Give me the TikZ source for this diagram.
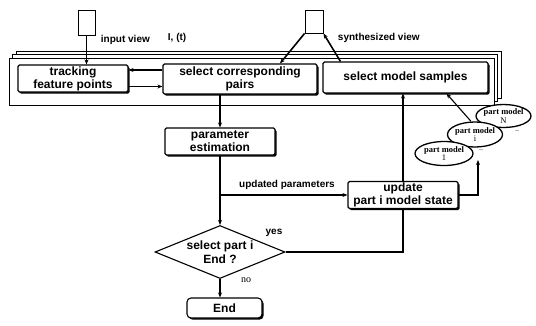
\documentclass[tikz,border=0pt]{standalone}
\usepackage{fontspec}
\setmainfont{Liberation Sans}
\newfontfamily\serifnum{Liberation Serif}
\usetikzlibrary{positioning,shapes.geometric,shadows,arrows.meta}

\tikzset{
  box/.style={draw, line width=1.1pt, rounded corners=1.5pt, fill=white, align=center, inner sep=1pt,
    font=\fontsize{12}{13}\selectfont\bfseries,
    drop shadow={shadow xshift=1.6pt, shadow yshift=-1.6pt, fill=black, opacity=1}},
  panel/.style={draw, line width=0.9pt, fill=white,
    double copy shadow={shadow xshift=3.5pt, shadow yshift=3.5pt}},
  view/.style={draw, line width=0.9pt, fill=white},
  decision/.style={draw, diamond, line width=1.1pt, fill=white, inner sep=0pt, aspect=2.45,
    minimum width=130pt, minimum height=53pt},
  part/.style={draw, ellipse, line width=1.3pt, fill=white, inner sep=-3pt, align=center,
    font=\fontsize{8.5}{8.5}\selectfont\serifnum\bfseries},
  lbl/.style={font=\fontsize{10}{11}\selectfont\bfseries, inner sep=0.75pt},
  arr/.style={line width=1.1pt, -{Stealth[length=5pt, width=4pt]}},
  link/.style={line width=1.1pt},
}

\begin{document}
\begin{tikzpicture}[x=1pt, y=-1pt]
\useasboundingbox (0,0) rectangle (536,325);
\node[panel, minimum width=485pt, minimum height=47pt] (stack) at (251.5,81.5) {};
\node[view, minimum width=17pt, minimum height=25pt] (inview) at (86.5,22.5) {};
\node[view, minimum width=18pt, minimum height=23pt] (synview) at (314,21.5) {};
\node[box, minimum width=110pt, minimum height=27pt] (track) at (73,78.5) {tracking\\feature points};
\node[box, minimum width=154pt, minimum height=30pt] (pairs) at (240,79) {select corresponding\\pairs};
\node[box, minimum width=165pt, minimum height=31pt] (samples) at (405.5,77.5) {select model samples};
\node[box, minimum width=110pt, minimum height=27pt] (param) at (220,141.5) {parameter\\estimation};
\node[box, minimum width=110pt, minimum height=27pt] (update) at (403,195) {update\\part i model state};
\node[decision] (select) at (220,252) {};
\node[font=\fontsize{12}{14}\selectfont\bfseries, align=center, inner sep=0pt] (selecttext) at (select) {select part i\\End ?};
\node[box, rounded corners=4pt, minimum width=75pt, minimum height=20pt] (end) at (224.5,308) {End};
% part models
\node[part, minimum width=55pt, minimum height=23pt] (partN) at (503.5,116) {part model\\\mdseries N};
\node[part, minimum width=55pt, minimum height=25pt] (parti) at (475,134.5) {part model\\\mdseries i};
\node[part, minimum width=58pt, minimum height=24pt] (partone) at (444,153.5) {part model\\\mdseries 1};
\node[font=\fontsize{8}{8}\selectfont\serifnum, inner sep=0pt] (dotsN) at (517,131) {..};
\node[font=\fontsize{8}{8}\selectfont\serifnum, inner sep=0pt] (dotsi) at (481,150) {..};
\coordinate (stacktip) at (478,160);
\coordinate (branch) at (param.south |- update.west);
% connectors
\draw[arr] (inview.south) -- (inview.south |- track.north);
\draw[arr] ([yshift=9pt]pairs.west) -- ([yshift=9pt]pairs.west -| track.east);
\draw[arr] ([yshift=-8pt]track.east) -- ([yshift=-8pt]track.east -| pairs.west);
\draw[arr, line width=1.6pt] (synview.south west) -- ([xshift=40pt]pairs.north);
\draw[arr, line width=1.6pt] ([xshift=-65pt]samples.north) -- (synview.south east);
\draw[arr] (param.north |- pairs.south) -- (param.north);
\draw[arr] (param.south) -- (select.north);
\draw[arr] (branch) -- (update.west);
\draw[arr] (update.north) -- (update.north |- samples.south);
\draw[arr] ([xshift=-4pt]parti.north) -- ([xshift=41pt]samples.south);
\draw[arr] (update.east) -| (stacktip);
\draw[link] (select.east) -| (update.south);
\draw[arr] (select.south) -- (select.south |- end.north);
%Text
\node[lbl, anchor=west] (inlabel) at (100,40) {input view};
\node[lbl, anchor=west] (framelabel) at (167,38) {I, (t)};
\node[lbl, anchor=west] (synlabel) at (337,38) {synthesized view};
\node[lbl] (updlabel) at (287,185) {updated parameters};
\node[lbl] (yeslabel) at (274,233) {yes};
\node[font=\fontsize{10}{11}\selectfont\serifnum, inner sep=0pt] (nolabel) at (246,280) {no};
\end{tikzpicture}
\end{document}
